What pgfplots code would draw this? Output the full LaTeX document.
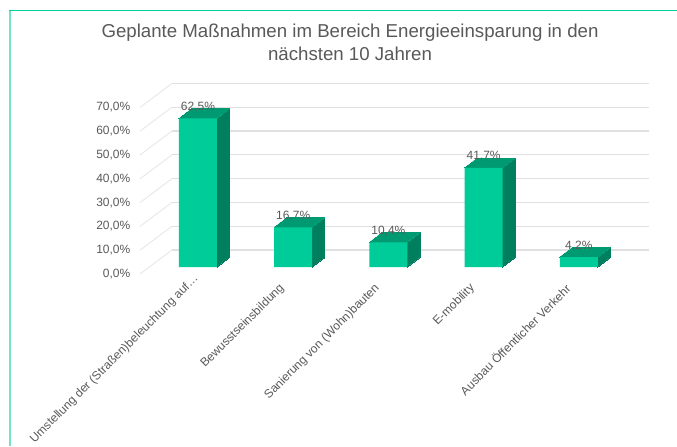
\documentclass[border=0pt]{standalone}
\usepackage{fontspec}
\setmainfont{Liberation Sans}
\usepackage{pgfplots}
\usepackage{pgfplotstable}
\pgfplotsset{compat=1.18}
\definecolor{txt}{HTML}{595959}
\definecolor{gridc}{HTML}{E0E0E0}
\definecolor{front}{HTML}{00CC99}
\definecolor{topf}{HTML}{009A72}
\definecolor{sidef}{HTML}{007F5F}
\pgfplotstableread{
x v
0 62.5
1 16.7
2 10.4
3 41.7
4 4.2
}\bars
\begin{document}
\begin{tikzpicture}
% page frame, 1px = 0.75pt
\path[use as bounding box] (0,0) rectangle (507.75pt,334.5pt);
\draw[color=front!55,line width=1.1pt] (7.4pt,334.5pt-7.6pt) -- (7.4pt,0);
\draw[color=front!90!cyan,line width=0.7pt] (7pt,334.5pt-7.9pt) -- (507.75pt,334.5pt-7.9pt);
\begin{axis}[
    at={(105pt,128.25pt)}, anchor=south west,
    scale only axis, width=382.5pt, height=144pt,
    xmin=-0.6092, xmax=4.7479, ymin=-3.36, ymax=77.31,
    clip=false,
    axis line style={draw=none},
    tick style={draw=none},
    xtick={0,1,2,3,4},
    xticklabels={{Umstellung der (Straßen)beleuchtung auf…\hspace*{-10pt}},Bewusstseinsbildung,Sanierung von (Wohn)bauten,E-mobility,Ausbau Öffentlicher Verkehr},
    ytick={0,10,20,30,40,50,60,70},
    yticklabel={\pgfmathprintnumber{\tick}\%},
    /pgf/number format/.cd, use comma, fixed, fixed zerofill, precision=1, assume math mode=true,
    /pgfplots/.cd,
    tick label style={color=txt,font=\fontsize{9}{11}\selectfont},
    yticklabel style={yshift=-5.25pt,xshift=-3.75pt},
    y tick label style={anchor=east},
    x tick label style={rotate=45,anchor=east,xshift=-8.4pt,yshift=-0.3pt},
    title={Geplante Maßnahmen im Bereich Energieeinsparung in den\\nächsten 10 Jahren},
    title style={at={(0.4118,1)},anchor=south,align=center,color=txt,yshift=7.5pt,
      font=\fontsize{14}{17.25}\selectfont},
    unbounded coords=jump,
]
% back wall lines
\addplot[gridc,line width=0.9pt] coordinates {
 (-0.2731,7.14) (4.7374,7.14) (nan,nan)
 (-0.2731,17.14) (4.7374,17.14) (nan,nan)
 (-0.2731,27.14) (4.7374,27.14) (nan,nan)
 (-0.2731,37.14) (4.7374,37.14) (nan,nan)
 (-0.2731,47.14) (4.7374,47.14) (nan,nan)
 (-0.2731,57.14) (4.7374,57.14) (nan,nan)
 (-0.2731,67.14) (4.7374,67.14) (nan,nan)
 (-0.2731,77.14) (4.7374,77.14)
};
% side wall lines
\addplot[gridc!75,line width=0.7pt] coordinates {
 (-0.6092,-2.94) (-0.2731,7.14) (nan,nan)
 (-0.6092,7.06) (-0.2731,17.14) (nan,nan)
 (-0.6092,17.06) (-0.2731,27.14) (nan,nan)
 (-0.6092,27.06) (-0.2731,37.14) (nan,nan)
 (-0.6092,37.06) (-0.2731,47.14) (nan,nan)
 (-0.6092,47.06) (-0.2731,57.14) (nan,nan)
 (-0.6092,57.06) (-0.2731,67.14) (nan,nan)
 (-0.6092,67.06) (-0.2731,77.14)
};
% side faces of the bars
\addplot[sidef,fill=sidef,line width=0pt] coordinates {(0.2,0) (0.332,4) (0.332,66.5) (0.2,62.5)} -- cycle;
\addplot[sidef,fill=sidef,line width=0pt] coordinates {(1.2,0) (1.332,4) (1.332,20.7) (1.2,16.7)} -- cycle;
\addplot[sidef,fill=sidef,line width=0pt] coordinates {(2.2,0) (2.332,4) (2.332,14.4) (2.2,10.4)} -- cycle;
\addplot[sidef,fill=sidef,line width=0pt] coordinates {(3.2,0) (3.332,4) (3.332,45.7) (3.2,41.7)} -- cycle;
\addplot[sidef,fill=sidef,line width=0pt] coordinates {(4.2,0) (4.332,4) (4.332,8.2) (4.2,4.2)} -- cycle;
% top faces
\addplot[topf,fill=topf,line width=0pt] coordinates {(-0.2,62.5) (0.2,62.5) (0.332,66.5) (-0.068,66.5)} -- cycle;
\addplot[topf,fill=topf,line width=0pt] coordinates {(0.8,16.7) (1.2,16.7) (1.332,20.7) (0.932,20.7)} -- cycle;
\addplot[topf,fill=topf,line width=0pt] coordinates {(1.8,10.4) (2.2,10.4) (2.332,14.4) (1.932,14.4)} -- cycle;
\addplot[topf,fill=topf,line width=0pt] coordinates {(2.8,41.7) (3.2,41.7) (3.332,45.7) (2.932,45.7)} -- cycle;
\addplot[topf,fill=topf,line width=0pt] coordinates {(3.8,4.2) (4.2,4.2) (4.332,8.2) (3.932,8.2)} -- cycle;
% front faces with the value labels
\addplot[ybar,bar width=28.5pt,bar shift=0pt,draw=none,fill=front,
    nodes near coords={\pgfmathprintnumber{\pgfplotspointmeta}\%},
    point meta=y,
    every node near coord/.append style={anchor=base,yshift=6pt,color=txt,font=\fontsize{9}{11}\selectfont},
] table[x=x,y=v] {\bars};
\end{axis}
\end{tikzpicture}
\end{document}
